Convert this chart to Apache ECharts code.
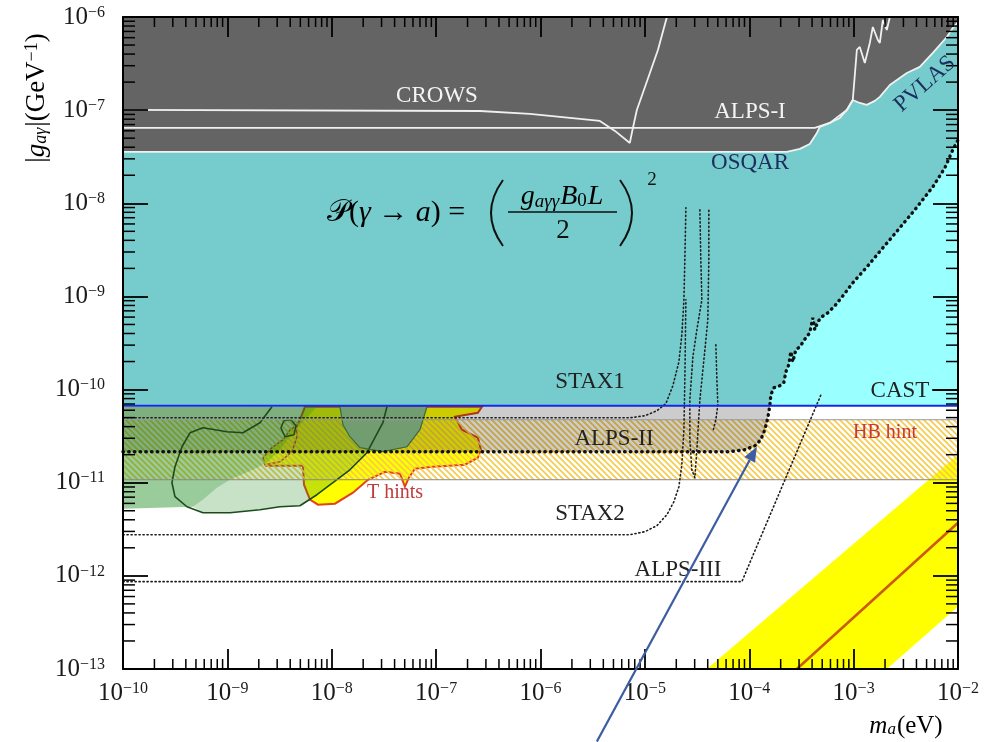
<!DOCTYPE html>
<html>
<head>
<meta charset="utf-8">
<title>ALP limits</title>
<script src="https://cdn.jsdelivr.net/npm/echarts@6/dist/echarts.min.js"></script>
<style>html,body{margin:0;background:#fff}#main{width:1007px;height:742px}</style>
</head>
<body>
<div id="main"></div>
<script>
// every point is [log10(m_a / eV), log10(|g| / GeV^-1)]

// lower edge of the CROWS / ALPS-I / OSQAR / PVLAS exclusion
var labEdge = [[-10,-7.448],[-3.640,-7.448],[-3.515,-7.416],[-3.420,-7.363],[-3.352,-7.245],[-3.324,-7.180],
  [-3.228,-7.137],[-3.132,-7.084],[-3.065,-6.998],[-3.008,-6.891],[-2.941,-6.923],[-2.874,-6.944],[-2.797,-6.901],
  [-2.749,-6.858],[-2.653,-6.730],[-2.558,-6.654],[-2.490,-6.601],[-2.366,-6.536],[-2.241,-6.386],[-2.107,-6.215],
  [-2.050,-6.118],[-2.0,-6.054]];
var crows = [[-10,-6.998],[-6.580,-7.009],[-6.102,-7.041],[-5.718,-7.084],[-5.431,-7.116],[-5.287,-7.223],
  [-5.144,-7.352],[-5.125,-7.245],[-5.077,-6.998],[-4.952,-6.601],[-4.875,-6.354],[-4.789,-6.0]];
var alps1 = [[-10,-7.191],[-3.372,-7.191],[-3.228,-7.137],[-3.065,-6.998],[-3.008,-6.891],[-2.969,-6.354],
  [-2.941,-6.322],[-2.893,-6.494],[-2.845,-6.279],[-2.816,-6.107],[-2.768,-6.247],[-2.749,-6.279],[-2.720,-6.032],
  [-2.682,-6.139],[-2.653,-6.0]];
var castLevel = -10.174;
var alps2 = [[-10,-10.667],[-4.186,-10.667],[-4.042,-10.646],[-3.946,-10.603],[-3.889,-10.539],[-3.851,-10.431],
  [-3.822,-10.303],[-3.803,-10.174],[-3.793,-10.056],[-3.764,-9.981],[-3.707,-9.959],[-3.669,-9.927],[-3.649,-9.809],
  [-3.621,-9.734],[-3.602,-9.594],[-3.582,-9.702],[-3.554,-9.573],[-3.515,-9.541],[-3.458,-9.444],[-3.420,-9.391],
  [-3.391,-9.230],[-3.372,-9.358],[-3.343,-9.272],[-3.305,-9.219],[-3.247,-9.176],[-3.180,-9.101],[-3.103,-8.994],
  [-3.008,-8.854],[-2.864,-8.672],[-2.720,-8.479],[-2.558,-8.264],[-2.414,-8.071],[-2.241,-7.824],[-2.126,-7.620],
  [-2.050,-7.427],[-2.0,-7.320]];
var stax1 = [[-10,-10.303],[-5.144,-10.303],[-5.0,-10.281],[-4.885,-10.227],[-4.799,-10.152],[-4.732,-9.959],
  [-4.674,-9.702],[-4.646,-9.412],[-4.626,-9.036],[-4.617,-8.607],[-4.607,-8.049]];
var stax2 = [[-10,-11.558],[-5.144,-11.558],[-5.0,-11.526],[-4.885,-11.461],[-4.789,-11.343],[-4.722,-11.204],
  [-4.674,-11.043],[-4.646,-10.807],[-4.626,-10.431],[-4.617,-9.895],[-4.607,-9.036]];
var staxRes1 = [[-4.473,-8.071],[-4.464,-8.607],[-4.454,-9.036],[-4.502,-9.358],[-4.540,-9.648],[-4.569,-10.109],
  [-4.569,-10.539],[-4.550,-10.861],[-4.521,-10.946],[-4.502,-10.646],[-4.473,-10.109],[-4.425,-9.573],
  [-4.397,-9.251],[-4.387,-8.607],[-4.387,-8.049]];
var staxRes2 = [[-4.320,-9.519],[-4.310,-9.895],[-4.301,-10.163],[-4.320,-10.324],[-4.349,-10.453]];
var alps3 = [[-10,-12.062],[-4.071,-12.062],[-3.305,-10.034]];
var hbBand = [-10.324, -10.968];
var greenLeft = [[-10,-10.185],[-8.142,-10.185],[-8.257,-10.324],[-8.372,-10.464],[-8.496,-10.646],[-8.621,-10.785],
  [-8.755,-10.861],[-8.975,-10.968],[-9.100,-11.054],[-9.234,-11.182],[-9.330,-11.258],[-10,-11.279]];
var greenContour = [[-8.573,-10.185],[-8.688,-10.356],[-8.851,-10.464],[-9.004,-10.453],[-9.234,-10.410],
  [-9.358,-10.464],[-9.435,-10.614],[-9.502,-10.828],[-9.531,-11.0],[-9.502,-11.150],[-9.387,-11.258],
  [-9.234,-11.322],[-8.975,-11.322],[-8.688,-11.290],[-8.496,-11.258],[-8.305,-11.247],[-8.142,-11.129],
  [-7.989,-11.0],[-7.826,-10.861],[-7.663,-10.678],[-7.510,-10.356],[-7.471,-10.185]];
var greenBlob = [[-7.921,-10.185],[-7.893,-10.378],[-7.826,-10.506],[-7.730,-10.624],[-7.510,-10.667],
  [-7.280,-10.614],[-7.155,-10.431],[-7.088,-10.185]];
var greenLoop = [[-8.448,-10.506],[-8.487,-10.410],[-8.458,-10.335],[-8.391,-10.324],[-8.343,-10.389],
  [-8.362,-10.485],[-8.448,-10.506]];
var tHints = [[-8.621,-10.818],[-8.544,-10.700],[-8.400,-10.539],[-8.305,-10.324],[-8.257,-10.185],[-6.561,-10.185],
  [-6.600,-10.249],[-6.820,-10.292],[-6.753,-10.431],[-6.600,-10.517],[-6.571,-10.646],[-6.600,-10.732],
  [-6.724,-10.807],[-7.031,-10.828],[-7.203,-10.850],[-7.261,-10.946],[-7.299,-11.043],[-7.347,-10.903],
  [-7.490,-10.882],[-7.653,-10.968],[-7.797,-11.107],[-7.969,-11.225],[-8.132,-11.236],[-8.209,-11.182],
  [-8.266,-11.021],[-8.276,-10.818]];
var tIsland = [[-8.640,-10.807],[-8.659,-10.732],[-8.573,-10.624],[-8.467,-10.539],[-8.400,-10.431],
  [-8.343,-10.389],[-8.333,-10.506],[-8.381,-10.667],[-8.496,-10.775]];
var qcdBand = [[-4.406,-13.0],[-2.0,-10.700],[-2.0,-12.330],[-2.682,-13.0]];
var ksvz = [[-3.544,-13.0],[-2.0,-11.429]];
var arrowFrom = [-5.460,-13.779], arrowTo = [-3.927,-10.614];

var SERIF = '"Liberation Serif", "DejaVu Serif", serif';

function toVal(pts) {
  return pts.map(function (p) { return [Math.pow(10, p[0]), Math.pow(10, p[1])]; });
}

var zi = 1;
function area(pts, style) {
  var data = toVal(pts);
  return {
    type: 'custom', silent: true, z: zi++, data: data, animation: false,
    renderItem: function (params, api) {
      if (params.dataIndex !== 0) return;
      return { type: 'polygon', shape: { points: data.map(function (d) { return api.coord(d); }) }, style: style };
    }
  };
}
function curve(pts, lineStyle) {
  return {
    type: 'line', silent: true, z: zi++, data: toVal(pts), symbol: 'none', animation: false,
    lineStyle: lineStyle
  };
}

// hatch for the HB hint band
var hatch = document.createElement('canvas');
hatch.width = 6; hatch.height = 6;
var hc = hatch.getContext('2d');
hc.strokeStyle = '#f7cb4a'; hc.lineWidth = 1.6;
[[-1, -1, 7, 7], [-1, 5, 1, 7], [5, -1, 7, 1]].forEach(function (l) {
  hc.beginPath(); hc.moveTo(l[0], l[1]); hc.lineTo(l[2], l[3]); hc.stroke();
});

var grayTop = [[-10, -6], [-2, -6]].concat(labEdge.slice().reverse());
var teal = labEdge.concat([[-2, castLevel], [-10, castLevel]]);
var cyan = alps2.slice(7).concat([[-2, castLevel]]);
var alps2Area = [[-10, -10.185]].concat(alps2.slice(0, 8).reverse());
var greenLight = greenLeft.slice(1, 11).concat(greenContour.slice(11).concat([[-8.142, -10.185]]));
var hbArea = [[-10, hbBand[0]], [-2, hbBand[0]], [-2, hbBand[1]], [-10, hbBand[1]]];

var fineDots = { color: '#1e1e1e', width: 1.6, type: [1.2, 2.8], cap: 'round' };
var white = { color: '#f0f0f0', width: 1.8 };

var series = [
  area(grayTop, { fill: '#646464' }),
  area(teal, { fill: '#76cccc' }),
  area(cyan, { fill: '#99ffff' }),
  area(qcdBand, { fill: '#ffff00' }),
  area(tHints, { fill: '#ffff00', stroke: '#e2421c', lineWidth: 2 }),
  area(tIsland, { fill: '#ffff00', stroke: '#e2421c', lineWidth: 1.6 }),
  area(hbArea, { fill: { image: hatch, repeat: 'repeat' } }),
  area(alps2Area, { fill: 'rgba(0,0,0,0.2)' }),
  area(greenLeft, { fill: 'rgba(30,140,30,0.45)' }),
  area(greenLight, { fill: 'rgba(30,140,30,0.25)' }),
  area(greenBlob, { fill: '#719d71' }),
  curve(greenContour, { color: '#1d4a1d', width: 1.6 }),
  curve(greenBlob, { color: '#3b6a3b', width: 1.2 }),
  curve(greenLoop, { color: '#1d4a1d', width: 1.5 }),
  curve([[-10, hbBand[0]], [-2, hbBand[0]]], { color: '#999', width: 1 }),
  curve([[-10, hbBand[1]], [-2, hbBand[1]]], { color: '#888', width: 1 }),
  curve(ksvz, { color: '#cc5a10', width: 2.6 }),
  curve(labEdge, white),
  curve(crows, white),
  curve(alps1, white),
  curve(stax1, fineDots),
  curve(stax2, fineDots),
  curve(staxRes1, fineDots),
  curve(staxRes2, fineDots),
  curve(alps3, fineDots),
  curve(alps2, { color: '#111', width: 3.4, type: [0.5, 5.2], cap: 'round' }),
  curve([[-10, castLevel], [-2, castLevel]], { color: '#1428e6', width: 2 })
];

// minor ticks at 2..9 of each decade, on all four sides
var minorX = [], minorY = [];
for (var k = -10; k < -2; k++) for (var m = 2; m < 10; m++) minorX.push([m * Math.pow(10, k), 1e-13]);
for (var k2 = -13; k2 < -6; k2++) for (var m2 = 2; m2 < 10; m2++) minorY.push([1e-10, m2 * Math.pow(10, k2)]);
function tickStyle() { return { stroke: '#000', lineWidth: 1.5 }; }
series.push({
  type: 'custom', silent: true, z: 60, data: minorX, animation: false,
  renderItem: function (params, api) {
    var v = api.value(0), b = api.coord([v, 1e-13]), t = api.coord([v, 1e-6]);
    return { type: 'group', children: [
      { type: 'line', shape: { x1: b[0], y1: b[1], x2: b[0], y2: b[1] - 10 }, style: tickStyle() },
      { type: 'line', shape: { x1: t[0], y1: t[1], x2: t[0], y2: t[1] + 10 }, style: tickStyle() }] };
  }
});
series.push({
  type: 'custom', silent: true, z: 60, data: minorY, animation: false,
  renderItem: function (params, api) {
    var v = api.value(1), l = api.coord([1e-10, v]), r = api.coord([1e-2, v]);
    return { type: 'group', children: [
      { type: 'line', shape: { x1: l[0], y1: l[1], x2: l[0] + 12, y2: l[1] }, style: tickStyle() },
      { type: 'line', shape: { x1: r[0], y1: r[1], x2: r[0] - 12, y2: r[1] }, style: tickStyle() }] };
  }
});

function powLabel(v) {
  var e = Math.round(Math.log(v) / Math.LN10);
  return '{b|10}{s|\u2212' + (-e) + '}';
}
var powRich = {
  b: { fontFamily: SERIF, fontSize: 25, lineHeight: 25, padding: [3, 0, 0, 0], color: '#1a1a1a', verticalAlign: 'bottom' },
  s: { fontFamily: SERIF, fontSize: 16, lineHeight: 16, color: '#1a1a1a', verticalAlign: 'top' }
};
function logAxis(pos, min, max, split, labels, tickLen) {
  return {
    type: 'log', logBase: 10, min: min, max: max, splitNumber: split, position: pos, z: 50,
    axisLine: { show: true, onZero: false, lineStyle: { color: '#000', width: 2 } },
    axisTick: { show: true, inside: true, length: tickLen, lineStyle: { color: '#000', width: 1.8 } },
    axisLabel: { show: labels, margin: pos === 'left' ? 18 : 12, formatter: powLabel, rich: powRich },
    splitLine: { show: false }
  };
}

var chart = echarts.init(document.getElementById('main'));
chart.setOption({
  animation: false,
  backgroundColor: '#fff',
  grid: { left: 123, right: 49, top: 17, bottom: 73 },
  xAxis: [logAxis('bottom', 1e-10, 1e-2, 8, true, 20), logAxis('top', 1e-10, 1e-2, 8, false, 20)],
  yAxis: [logAxis('left', 1e-13, 1e-6, 7, true, 25), logAxis('right', 1e-13, 1e-6, 7, false, 25)],
  series: series
});

// annotations
function label(text, x, y, color, size, rot) {
  return { type: 'text', x: x, y: y, rotation: rot || 0, z: 100,
    style: { text: text, fill: color, font: size + 'px ' + SERIF, align: 'center', verticalAlign: 'middle' } };
}
var it = { fontFamily: SERIF, fontStyle: 'italic', fontSize: 28, color: '#111' };
var sub = { fontFamily: SERIF, fontStyle: 'italic', fontSize: 19, color: '#111', verticalAlign: 'bottom', padding: [9, 1, 0, 0] };
var sub0 = { fontFamily: SERIF, fontSize: 19, color: '#111', verticalAlign: 'bottom', padding: [9, 1, 0, 0] };

var from = chart.convertToPixel({ gridIndex: 0 }, toVal([arrowFrom])[0]);
var to = chart.convertToPixel({ gridIndex: 0 }, toVal([arrowTo])[0]);
var ang = Math.atan2(to[1] - from[1], to[0] - from[0]);
var hl = 15, hw = 6;
var back = [to[0] - hl * Math.cos(ang), to[1] - hl * Math.sin(ang)];
var head = [to, [back[0] + hw * Math.sin(ang), back[1] - hw * Math.cos(ang)], [back[0] - hw * Math.sin(ang), back[1] + hw * Math.cos(ang)]];

chart.setOption({
  graphic: [
    label('CROWS', 437, 96, '#f4f4f4', 23),
    label('ALPS-I', 750, 112, '#f4f4f4', 23),
    label('OSQAR', 750, 163, '#1c2d5e', 23),
    label('PVLAS', 925, 84, '#1c2d5e', 23, 0.72),
    label('STAX1', 590, 382, '#222', 23),
    label('CAST', 900, 391, '#222', 23),
    { type: 'line', z: 100, shape: { x1: 932, y1: 390, x2: 957, y2: 390 }, style: { stroke: '#000', lineWidth: 1.5 } },
    label('ALPS-II', 614, 439, '#222', 23),
    label('HB hint', 885, 433, '#c83737', 20),
    label('T hints', 395, 493, '#c03c3c', 20),
    label('STAX2', 590, 514, '#222', 23),
    label('ALPS-III', 678, 570, '#222', 23),
    // formula
    { type: 'text', x: 327, y: 213, z: 100, style: {
      text: '{s|\uD835\uDCAB}{r|(}{i|\u03B3}{r| \u2192 }{i|a}{r|) =}', verticalAlign: 'middle',
      rich: { s: { fontFamily: SERIF, fontSize: 31, color: '#111' }, r: { fontFamily: SERIF, fontSize: 30, color: '#111' },
        i: { fontFamily: SERIF, fontStyle: 'italic', fontSize: 30, color: '#111' } } } },
    { type: 'bezierCurve', z: 100, shape: { x1: 503, y1: 180, x2: 503, y2: 246, cpx1: 479, cpy1: 213 }, style: { stroke: '#111', lineWidth: 2, fill: null } },
    { type: 'bezierCurve', z: 100, shape: { x1: 620, y1: 180, x2: 620, y2: 246, cpx1: 644, cpy1: 213 }, style: { stroke: '#111', lineWidth: 2, fill: null } },
    { type: 'text', x: 562, y: 197, z: 100, style: {
      text: '{i|g}{u|a\u03B3\u03B3}{i|B}{z|0}{i|L}', align: 'center', verticalAlign: 'middle',
      rich: { i: it, u: sub, z: sub0 } } },
    { type: 'line', z: 100, shape: { x1: 508, y1: 212, x2: 617, y2: 212 }, style: { stroke: '#111', lineWidth: 1.4 } },
    { type: 'text', x: 563, y: 231, z: 100, style: { text: '2', fill: '#111', font: '27px ' + SERIF, align: 'center', verticalAlign: 'middle' } },
    { type: 'text', x: 652, y: 180, z: 100, style: { text: '2', fill: '#111', font: '19px ' + SERIF, align: 'center', verticalAlign: 'middle' } },
    // axis names
    { type: 'text', x: 37, y: 98, rotation: Math.PI / 2, z: 100, style: {
      text: '{r||}{i|g}{u|a\u03B3}{r||(GeV}{p|\u22121}{r|)}', align: 'center', verticalAlign: 'middle',
      rich: { r: { fontFamily: SERIF, fontSize: 27, color: '#222' }, i: { fontFamily: SERIF, fontStyle: 'italic', fontSize: 27, color: '#222' },
        u: { fontFamily: SERIF, fontStyle: 'italic', fontSize: 18, color: '#222', verticalAlign: 'bottom', padding: [9, 1, 0, 0] },
        p: { fontFamily: SERIF, fontSize: 18, color: '#222', verticalAlign: 'top', padding: [0, 0, 9, 0] } } } },
    { type: 'text', x: 906, y: 726, z: 100, style: {
      text: '{i|m}{u|a}{r|(eV)}', align: 'center', verticalAlign: 'middle',
      rich: { r: { fontFamily: SERIF, fontSize: 25, color: '#222' }, i: { fontFamily: SERIF, fontStyle: 'italic', fontSize: 25, color: '#222' },
        u: { fontFamily: SERIF, fontStyle: 'italic', fontSize: 17, color: '#222', verticalAlign: 'bottom', padding: [8, 1, 0, 0] } } } },
    // arrow
    { type: 'line', z: 100, shape: { x1: from[0], y1: from[1], x2: back[0], y2: back[1] }, style: { stroke: '#3d5da3', lineWidth: 2.2 } },
    { type: 'polygon', z: 100, shape: { points: head }, style: { fill: '#3d5da3' } }
  ]
});
</script>
</body>
</html>
